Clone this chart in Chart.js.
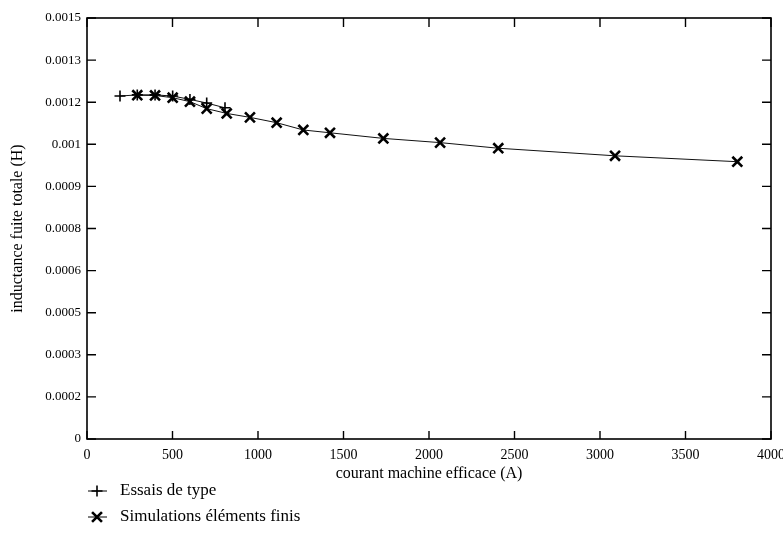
<!DOCTYPE html>
<html>
<head>
<meta charset="utf-8">
<script src="https://cdn.jsdelivr.net/npm/chart.js@4"></script>
<style>
  html, body { margin: 0; padding: 0; background: #fff; }
  #wrap { width: 783px; height: 545px; }
</style>
</head>
<body>
<div id="wrap"><canvas id="myChart" width="783" height="545"></canvas></div>
<script>
// courant (A) et inductance (H)
const essaisCourant = [193, 294, 398, 501, 602, 700, 807];
const essaisInductance = [0.001222, 0.001226, 0.001226, 0.001222, 0.00121, 0.001197, 0.00118];

const simCourant = [294, 398, 501, 602, 700, 817, 953, 1109, 1265, 1421, 1733, 2065, 2405, 3088, 3803];
const simInductance = [0.001225, 0.001224, 0.001216, 0.001202, 0.001177, 0.00116, 0.001146, 0.001127,
                       0.001101, 0.001091, 0.001071, 0.001056, 0.001036, 0.001009, 0.000988];

const yTickLabels = ['0', '0.0002', '0.0003', '0.0005', '0.0006', '0.0008',
                     '0.0009', '0.001', '0.0012', '0.0013', '0.0015'];

const serif = '"Liberation Serif", "DejaVu Serif", serif';

function toPoints(xs, ys) {
    return xs.map(function(x, i) { return {x: x, y: ys[i]}; });
}

// cadre + graduations tournées vers l'intérieur, et légende en dessous
const framePlugin = {
    id: 'frame',
    afterDraw: function(chart) {
        const ctx = chart.ctx;
        const a = chart.chartArea;
        const xs = chart.scales.x;
        const ys = chart.scales.y;
        ctx.save();
        ctx.strokeStyle = '#000';
        ctx.lineWidth = 1.6;
        ctx.strokeRect(a.left, a.top, a.right - a.left, a.bottom - a.top);
        ctx.lineWidth = 1.4;
        ctx.beginPath();
        xs.ticks.forEach(function(t, i) {
            const px = xs.getPixelForTick(i);
            ctx.moveTo(px, a.bottom); ctx.lineTo(px, a.bottom - 8);
            ctx.moveTo(px, a.top); ctx.lineTo(px, a.top + 9);
        });
        ys.ticks.forEach(function(t, i) {
            const py = ys.getPixelForTick(i);
            ctx.moveTo(a.left, py); ctx.lineTo(a.left + 9, py);
            ctx.moveTo(a.right, py); ctx.lineTo(a.right - 9, py);
        });
        ctx.stroke();

        // légende
        ctx.font = '17px ' + serif;
        ctx.textBaseline = 'middle';
        ctx.fillStyle = '#000';
        chart.data.datasets.forEach(function(ds, i) {
            const y = 491 + i * 26;
            ctx.lineWidth = 1;
            ctx.beginPath();
            ctx.moveTo(88, y); ctx.lineTo(107, y);
            ctx.stroke();
            ctx.lineWidth = ds.pointBorderWidth;
            Chart.helpers.drawPoint(ctx, {pointStyle: ds.pointStyle, radius: ds.pointRadius, rotation: 0, borderWidth: ds.pointBorderWidth}, 97, y);
            ctx.fillText(ds.label, 120, y);
        });
        ctx.restore();
    }
};

const ctx = document.getElementById('myChart').getContext('2d');
const chart = new Chart(ctx, {
    type: 'scatter',
    data: {
        datasets: [
            {
                label: 'Essais de type',
                data: toPoints(essaisCourant, essaisInductance),
                showLine: true,
                borderColor: '#111',
                borderWidth: 1,
                pointStyle: 'cross',
                pointRadius: 5.5,
                pointBorderWidth: 1.6,
                pointBorderColor: '#000',
                pointBackgroundColor: '#000',
                tension: 0
            },
            {
                label: 'Simulations éléments finis',
                data: toPoints(simCourant, simInductance),
                showLine: true,
                borderColor: '#111',
                borderWidth: 1,
                pointStyle: 'crossRot',
                pointRadius: 7,
                pointBorderWidth: 2.6,
                pointBorderColor: '#000',
                pointBackgroundColor: '#000',
                tension: 0
            }
        ]
    },
    options: {
        responsive: false,
        animation: false,
        layout: { padding: { top: 18, right: 12, bottom: 60, left: 0 } },
        plugins: {
            legend: { display: false },
            tooltip: { enabled: false }
        },
        scales: {
            x: {
                type: 'linear',
                min: 0,
                max: 4000,
                grid: { display: false, drawTicks: false },
                border: { display: false },
                ticks: {
                    stepSize: 500,
                    padding: 8,
                    maxRotation: 0,
                    color: '#000',
                    font: { family: serif, size: 14 },
                    callback: function(value) { return String(value); }
                },
                title: {
                    display: true,
                    text: 'courant machine efficace (A)',
                    color: '#000',
                    padding: { top: 4, bottom: 2 },
                    font: { family: serif, size: 16 }
                },
                afterFit: function(scale) {
                    scale.height = 46;
                    scale.paddingLeft = 0;
                    scale.paddingRight = 0;
                }
            },
            y: {
                type: 'linear',
                min: 0,
                max: 0.0015,
                grid: { display: false, drawTicks: false },
                border: { display: false },
                ticks: {
                    stepSize: 0.00015,
                    padding: 6,
                    color: '#000',
                    font: { family: serif, size: 13 },
                    callback: function(value, index) { return yTickLabels[index]; }
                },
                title: {
                    display: true,
                    text: 'inductance fuite totale (H)',
                    color: '#000',
                    padding: { top: 8, bottom: 0 },
                    font: { family: serif, size: 16 }
                },
                afterFit: function(scale) { scale.width = 87; }
            }
        }
    },
    plugins: [framePlugin]
});
</script>
</body>
</html>
